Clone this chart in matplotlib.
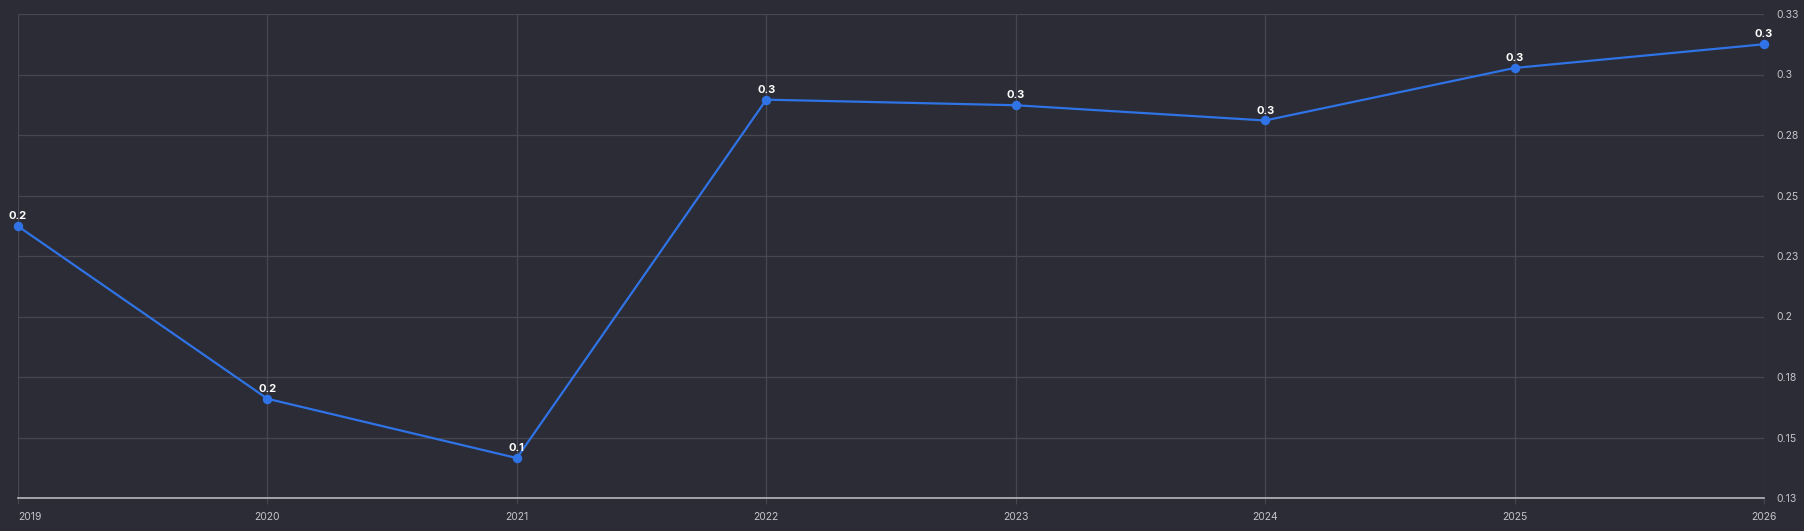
import matplotlib
matplotlib.use("Agg")
import matplotlib.pyplot as plt
from matplotlib.ticker import FixedLocator

years = [2019, 2020, 2021, 2022, 2023, 2024, 2025, 2026]
values = [0.2373, 0.1660, 0.1415, 0.2896, 0.2873, 0.2810, 0.3027, 0.3125]
y_ticks = [0.125, 0.15, 0.175, 0.2, 0.225, 0.25, 0.275, 0.3, 0.325]
y_tick_labels = ["0.13", "0.15", "0.18", "0.2", "0.23", "0.25", "0.28", "0.3", "0.33"]

bg = "#2b2c35"
grid_c = "#464751"
line_c = "#2f73e6"
tick_c = "#c4c5cc"

fig = plt.figure(figsize=(18.04, 5.31), dpi=100, facecolor=bg)
ax = fig.add_axes([18 / 1804, 33 / 531, (1764 - 18) / 1804, (498 - 14) / 531])
ax.set_facecolor(bg)

ax.plot(years, values, color=line_c, lw=1.6, marker="o", ms=5.8, zorder=3,
        solid_joinstyle="round", clip_on=False)
for x, v in zip(years, values):
    ax.annotate(f"{v:.1f}", (x, v), xytext=(0, 3.5), textcoords="offset points",
                ha="center", va="bottom", color="white", fontsize=8,
                fontweight="bold", family="Inter", zorder=4, annotation_clip=False)

ax.set_xlim(2019, 2026)
ax.set_ylim(0.125, 0.325)
ax.set_xticks(years)
ax.set_xticklabels([str(y) for y in years])
ax.yaxis.set_major_locator(FixedLocator(y_ticks))
ax.set_yticklabels(y_tick_labels)
ax.yaxis.tick_right()

ax.grid(True, color=grid_c, lw=0.9)
ax.set_axisbelow(True)
for s in ["top", "left", "right"]:
    ax.spines[s].set_visible(False)
ax.spines["bottom"].set_color("#b8b9c0")
ax.spines["bottom"].set_linewidth(1.2)

ax.tick_params(axis="x", colors=tick_c, labelsize=7.5, length=4, color=grid_c, pad=6)
ax.tick_params(axis="y", colors=tick_c, labelsize=7.5, length=0, pad=9)
for lab in ax.get_xticklabels() + ax.get_yticklabels():
    lab.set_family("Inter")
    lab.set_color(tick_c)
ax.get_xticklabels()[0].set_horizontalalignment("left")

fig.savefig("out.png", dpi=100, facecolor=bg)
